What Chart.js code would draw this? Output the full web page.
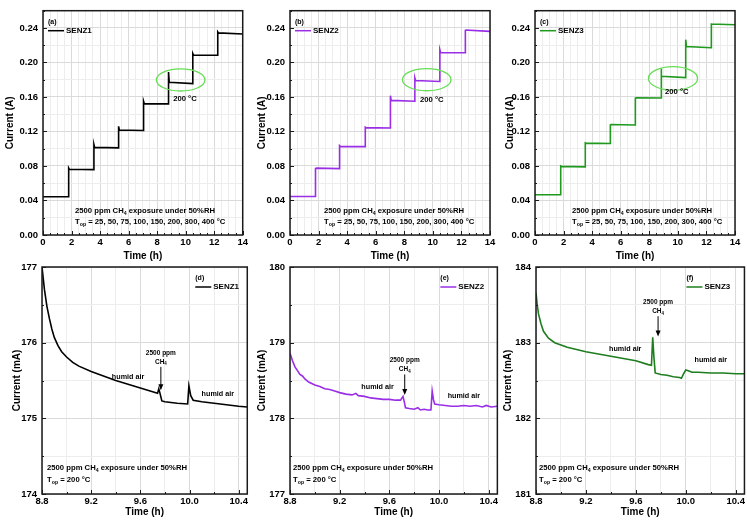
<!DOCTYPE html>
<html>
<head>
<meta charset="utf-8">
<script src="https://cdn.jsdelivr.net/npm/chart.js@4.4.0/dist/chart.umd.min.js"></script>
<style>
  body { margin: 0; background: #fff; }
  .panel { position: absolute; }
</style>
</head>
<body>
<div class="panel" style="left:0;top:0;width:250px;height:265px"><canvas id="chart-a"></canvas></div>
<div class="panel" style="left:250px;top:0;width:250px;height:265px"><canvas id="chart-b"></canvas></div>
<div class="panel" style="left:497px;top:0;width:250px;height:265px"><canvas id="chart-c"></canvas></div>
<div class="panel" style="left:0;top:255px;width:250px;height:270px"><canvas id="chart-d"></canvas></div>
<div class="panel" style="left:250px;top:255px;width:250px;height:270px"><canvas id="chart-e"></canvas></div>
<div class="panel" style="left:497px;top:255px;width:250px;height:270px"><canvas id="chart-f"></canvas></div>
<script>
var FONT = '"Liberation Sans", Arial, Helvetica, sans-serif';

// ---- tick labels ----
var topXLabels = [0, 2, 4, 6, 8, 10, 12, 14];
var topYLabels = [0.00, 0.04, 0.08, 0.12, 0.16, 0.20, 0.24];
var botXLabels = [8.8, 9.2, 9.6, 10.0, 10.4];
var yLabelsD = [174, 175, 176, 177];
var yLabelsE = [177, 178, 179, 180];
var yLabelsF = [181, 182, 183, 184];

// ---- (a)-(c): current vs time, 0-14 h (A) ----
var timeA = [0, 1.80, 1.80, 1.85, 3.57, 3.57, 3.62, 5.30, 5.30, 5.35, 7.05, 7.05, 7.10, 8.80, 8.80, 8.85, 10.50, 10.50, 10.55, 12.25, 12.25, 12.30, 14.0];
var currA = [0.0444, 0.0444, 0.0777, 0.0762, 0.0758, 0.1050, 0.1016, 0.1010, 0.1260, 0.1217, 0.1212, 0.1550, 0.1522, 0.1520, 0.1890, 0.1770, 0.1755, 0.2104, 0.2085, 0.2083, 0.2355, 0.2343, 0.2330];
var timeB = [0, 1.76, 1.76, 1.81, 3.47, 3.47, 3.52, 5.27, 5.27, 5.32, 7.03, 7.03, 7.08, 8.74, 8.74, 8.79, 10.49, 10.49, 10.54, 12.25, 12.25, 12.30, 14.0];
var currB = [0.0447, 0.0447, 0.0777, 0.0775, 0.0770, 0.1035, 0.1027, 0.1025, 0.1250, 0.1245, 0.1240, 0.1615, 0.1560, 0.1550, 0.1820, 0.1790, 0.1780, 0.2146, 0.2115, 0.2112, 0.2380, 0.2375, 0.2360];
var timeC = [0, 1.80, 1.80, 1.85, 3.52, 3.52, 3.57, 5.25, 5.25, 5.30, 7.00, 7.00, 7.05, 8.82, 8.82, 8.87, 10.55, 10.55, 10.60, 12.32, 12.32, 12.37, 14.0];
var currC = [0.0466, 0.0466, 0.0800, 0.0795, 0.0790, 0.1068, 0.1065, 0.1060, 0.1283, 0.1280, 0.1275, 0.1595, 0.1590, 0.1588, 0.1930, 0.1840, 0.1825, 0.2264, 0.2185, 0.2170, 0.2455, 0.2446, 0.2438];

// ---- (d)-(f): zoom at 200 °C, 8.8-10.47 h (mA) ----
var timeD = [8.80, 8.81, 8.82, 8.84, 8.86, 8.88, 8.90, 8.93, 8.96, 9.00, 9.05, 9.10, 9.20, 9.30, 9.40, 9.50, 9.60, 9.70, 9.74, 9.75, 9.76, 9.775, 9.80, 9.90, 9.985, 9.995, 10.01, 10.03, 10.10, 10.20, 10.30, 10.40, 10.47];
var currD = [177.00, 176.85, 176.70, 176.48, 176.32, 176.18, 176.07, 175.96, 175.88, 175.81, 175.74, 175.69, 175.62, 175.56, 175.50, 175.45, 175.40, 175.35, 175.33, 175.39, 175.33, 175.23, 175.22, 175.20, 175.19, 175.43, 175.30, 175.24, 175.22, 175.20, 175.18, 175.16, 175.15];
var timeE = [8.80, 8.82, 8.84, 8.86, 8.88, 8.90, 8.92, 8.95, 9.00, 9.04, 9.08, 9.12, 9.16, 9.20, 9.25, 9.30, 9.33, 9.35, 9.40, 9.45, 9.50, 9.55, 9.60, 9.65, 9.69, 9.71, 9.72, 9.73, 9.76, 9.80, 9.83, 9.85, 9.88, 9.91, 9.935, 9.945, 9.955, 9.965, 10.00, 10.05, 10.10, 10.15, 10.20, 10.25, 10.30, 10.35, 10.38, 10.42, 10.47];
var currE = [178.86, 178.76, 178.68, 178.63, 178.58, 178.56, 178.52, 178.48, 178.44, 178.42, 178.39, 178.38, 178.36, 178.34, 178.32, 178.31, 178.33, 178.30, 178.29, 178.27, 178.26, 178.25, 178.25, 178.24, 178.24, 178.29, 178.22, 178.14, 178.13, 178.12, 178.14, 178.11, 178.12, 178.11, 178.11, 178.36, 178.25, 178.19, 178.18, 178.17, 178.16, 178.16, 178.17, 178.16, 178.17, 178.15, 178.17, 178.15, 178.16];
var timeF = [8.80, 8.81, 8.82, 8.84, 8.86, 8.90, 8.95, 9.00, 9.05, 9.10, 9.20, 9.30, 9.40, 9.50, 9.60, 9.70, 9.725, 9.735, 9.745, 9.755, 9.80, 9.85, 9.90, 9.95, 9.965, 9.98, 10.00, 10.02, 10.05, 10.10, 10.20, 10.30, 10.40, 10.47];
var currF = [183.66, 183.50, 183.38, 183.25, 183.15, 183.06, 183.00, 182.97, 182.94, 182.92, 182.88, 182.85, 182.82, 182.79, 182.76, 182.71, 182.70, 183.07, 182.80, 182.60, 182.58, 182.57, 182.55, 182.54, 182.53, 182.58, 182.64, 182.63, 182.61, 182.61, 182.60, 182.60, 182.59, 182.59];

function inList(list, v) {
  for (var i = 0; i < list.length; i++) {
    if (Math.abs(list[i] - v) < 1e-6) return true;
  }
  return false;
}

// text with _subscript_ parts
function drawRich(ctx, str, x, y, size, align) {
  var parts = str.split('_');
  var w = 0;
  parts.forEach(function (p, i) {
    ctx.font = 'bold ' + (i % 2 ? size * 0.68 : size) + 'px ' + FONT;
    w += ctx.measureText(p).width;
  });
  if (align === 'center') x -= w / 2;
  ctx.textAlign = 'left';
  ctx.textBaseline = 'middle';
  parts.forEach(function (p, i) {
    var sub = i % 2 === 1;
    ctx.font = 'bold ' + (sub ? size * 0.68 : size) + 'px ' + FONT;
    ctx.fillText(p, x, y + (sub ? size * 0.35 : 0));
    x += ctx.measureText(p).width;
  });
}

function seg(ctx, x1, y1, x2, y2) {
  ctx.beginPath(); ctx.moveTo(x1, y1); ctx.lineTo(x2, y2); ctx.stroke();
}

var panelDecor = {
  id: 'panelDecor',
  afterDatasetsDraw: function (chart, args, o) {
    var ctx = chart.ctx, a = chart.chartArea, xs = chart.scales.x, ys = chart.scales.y;
    ctx.save();
    ctx.fillStyle = '#000';
    ctx.strokeStyle = '#1a1a1a';
    ctx.lineWidth = 1;
    // inward tick marks
    xs.ticks.forEach(function (t) {
      var px = Math.round(xs.getPixelForValue(t.value)) + 0.5;
      seg(ctx, px, a.bottom, px, a.bottom - (t.label ? 4 : 2));
    });
    ys.ticks.forEach(function (t) {
      var py = Math.round(ys.getPixelForValue(t.value)) + 0.5;
      seg(ctx, a.left, py, a.left + (t.label ? 4 : 2), py);
    });
    // frame
    ctx.lineWidth = 1.5;
    ctx.strokeRect(a.left, a.top, a.right - a.left, a.bottom - a.top);

    // legend
    ctx.font = 'bold 7px ' + FONT;
    ctx.textBaseline = 'middle';
    ctx.textAlign = 'left';
    var lx = o.legendRight ? a.right + o.legendDx : a.left + o.legendDx;
    ctx.fillText(o.tag, lx, a.top + 11);
    ctx.strokeStyle = o.color;
    ctx.lineWidth = 1.5;
    seg(ctx, lx, a.top + 20, lx + 16, a.top + 20);
    ctx.font = 'bold 8px ' + FONT;
    ctx.fillText(o.name, lx + 18, a.top + 20);

    // condition notes, bottom-left
    drawRich(ctx, o.note1, a.left + o.noteDx, a.bottom - o.noteDy1, 7.7, 'left');
    drawRich(ctx, o.note2, a.left + o.noteDx, a.bottom - o.noteDy2, 7.7, 'left');

    // green ring around 200 °C step
    if (o.ring) {
      var cx = xs.getPixelForValue(o.ring.x), cy = ys.getPixelForValue(o.ring.y);
      var rx = Math.abs(xs.getPixelForValue(o.ring.x + o.ring.rx) - cx);
      var ry = Math.abs(ys.getPixelForValue(o.ring.y + o.ring.ry) - cy);
      ctx.strokeStyle = '#66dd55';
      ctx.lineWidth = 1.3;
      ctx.beginPath(); ctx.ellipse(cx, cy, rx, ry, 0, 0, Math.PI * 2); ctx.stroke();
      drawRich(ctx, '200 °C', xs.getPixelForValue(o.ring.tx), ys.getPixelForValue(o.ring.ty), 7.7, 'center');
    }

    // arrow with gas label and humid air labels
    if (o.arrow) {
      var ax = xs.getPixelForValue(o.arrow.x);
      var y1 = ys.getPixelForValue(o.arrow.y1), y2 = ys.getPixelForValue(o.arrow.y2);
      drawRich(ctx, '2500 ppm', ax, y1 - 14, 6.5, 'center');
      drawRich(ctx, 'CH_4_', ax, y1 - 5, 6.5, 'center');
      ctx.strokeStyle = '#000';
      ctx.lineWidth = 1;
      seg(ctx, ax, y1, ax, y2 - 4);
      ctx.beginPath();
      ctx.moveTo(ax - 2.5, y2 - 6); ctx.lineTo(ax + 2.5, y2 - 6); ctx.lineTo(ax, y2); ctx.closePath(); ctx.fill();
      o.humid.forEach(function (h) {
        drawRich(ctx, 'humid air', xs.getPixelForValue(h.x), ys.getPixelForValue(h.y), 7.2, 'center');
      });
    }
    ctx.restore();
  }
};

function makePanel(id, p) {
  var points = p.time.map(function (t, i) { return { x: t, y: p.curr[i] }; });
  return new Chart(document.getElementById(id), {
    type: 'scatter',
    data: {
      datasets: [{
        data: points,
        showLine: true,
        borderColor: p.color,
        borderWidth: 1.6,
        pointRadius: 0,
        tension: 0,
        fill: false
      }]
    },
    options: {
      responsive: true,
      maintainAspectRatio: false,
      animation: false,
      events: [],
      layout: { padding: { top: p.padTop, right: p.padRight, left: 0, bottom: 0 } },
      plugins: {
        legend: { display: false },
        tooltip: { enabled: false },
        panelDecor: p.decor
      },
      scales: {
        x: {
          type: 'linear',
          min: p.xMin,
          max: p.xMax,
          afterFit: function (s) { s.height = p.xH; },
          border: { display: false },
          grid: {
            drawTicks: false,
            lineWidth: 1,
            color: function (c) { return inList(p.xLabels, c.tick.value) ? '#dadada' : '#ededed'; }
          },
          ticks: {
            stepSize: p.xStep,
            autoSkip: false,
            includeBounds: false,
            maxRotation: 0,
            padding: 2,
            color: '#000',
            font: { family: FONT, size: 9.5, weight: 'bold' },
            callback: function (v) { return inList(p.xLabels, v) ? v.toFixed(p.xDec) : ''; }
          },
          title: {
            display: true,
            text: 'Time (h)',
            color: '#000',
            font: { family: FONT, size: 10, weight: 'bold' },
            padding: { top: 0, bottom: p.xTitlePad }
          }
        },
        y: {
          type: 'linear',
          min: p.yMin,
          max: p.yMax,
          afterFit: function (s) { s.width = p.yW; },
          border: { display: false },
          grid: {
            drawTicks: false,
            lineWidth: 1,
            color: function (c) { return inList(p.yLabels, c.tick.value) ? '#dadada' : '#ededed'; }
          },
          ticks: {
            stepSize: p.yStep,
            autoSkip: false,
            includeBounds: false,
            padding: 5,
            color: '#000',
            font: { family: FONT, size: 9.5, weight: 'bold' },
            callback: function (v) { return inList(p.yLabels, v) ? v.toFixed(p.yDec) : ''; }
          },
          title: {
            display: true,
            text: p.yTitle,
            color: '#000',
            font: { family: FONT, size: 10, weight: 'bold' },
            padding: { top: p.yTitlePad, bottom: 0 }
          }
        }
      }
    },
    plugins: [panelDecor]
  });
}

var topNote1 = '2500 ppm CH_4_ exposure under 50%RH';
var topNote2 = 'T_op_ = 25, 50, 75, 100, 150, 200, 300, 400 °C';
var botNote2 = 'T_op_ = 200 °C';

function topPanel(id, time, curr, color, tag, name, yW, padRight, yTitlePad, noteDx, ring) {
  makePanel(id, {
    time: time, curr: curr, color: color,
    xMin: 0, xMax: 14, xStep: 0.5, xLabels: topXLabels, xDec: 0,
    yMin: 0, yMax: 0.26, yStep: 0.02, yLabels: topYLabels, yDec: 2,
    yTitle: 'Current (A)', yW: yW, xH: 30, padTop: 5, padRight: padRight,
    xTitlePad: 3, yTitlePad: yTitlePad,
    decor: {
      tag: tag, name: name, color: color, legendRight: false, legendDx: 5,
      note1: topNote1, note2: topNote2, noteDx: noteDx, noteDy1: 24, noteDy2: 13,
      ring: ring
    }
  });
}

function botPanel(id, time, curr, color, tag, name, yLabels, yW, padRight, yTitlePad, noteDx, legendDx, arrow, humid) {
  makePanel(id, {
    time: time, curr: curr, color: color,
    xMin: 8.8, xMax: 10.47, xStep: 0.2, xLabels: botXLabels, xDec: 1,
    yMin: yLabels[0], yMax: yLabels[3], yStep: 0.5, yLabels: yLabels, yDec: 0,
    yTitle: 'Current (mA)', yW: yW, xH: 31, padTop: 12, padRight: padRight,
    xTitlePad: 7, yTitlePad: yTitlePad,
    decor: {
      tag: tag, name: name, color: color, legendRight: true, legendDx: legendDx,
      note1: topNote1, note2: botNote2, noteDx: noteDx, noteDy1: 26, noteDy2: 14,
      arrow: arrow, humid: humid
    }
  });
}

topPanel('chart-a', timeA, currA, '#000000', '(a)', 'SENZ1', 43, 7, 4.5, 32,
  { x: 9.65, y: 0.1797, rx: 1.7, ry: 0.0128, tx: 9.95, ty: 0.158 });
topPanel('chart-b', timeB, currB, '#9a2ee6', '(b)', 'SENZ2', 40, 10, 6, 34,
  { x: 9.57, y: 0.1800, rx: 1.7, ry: 0.0128, tx: 9.92, ty: 0.157 });
topPanel('chart-c', timeC, currC, '#1f9a1f', '(c)', 'SENZ3', 38, 12, 7, 37,
  { x: 9.66, y: 0.1815, rx: 1.72, ry: 0.0136, tx: 9.92, ty: 0.1655 });

botPanel('chart-d', timeD, currD, '#000000', '(d)', 'SENZ1', yLabelsD, 42, 2, 11, 5, -52,
  { x: 9.767, y1: 175.68, y2: 175.37 }, [{ x: 9.50, y: 175.54 }, { x: 10.23, y: 175.32 }]);
botPanel('chart-e', timeE, currE, '#9a2ee6', '(e)', 'SENZ2', yLabelsE, 40, 2, 6, 3, -57,
  { x: 9.724, y1: 178.58, y2: 178.31 }, [{ x: 9.505, y: 178.41 }, { x: 10.20, y: 178.30 }]);
botPanel('chart-f', timeF, currF, '#1e7d1e', '(f)', 'SENZ3', yLabelsF, 39, 1, 5.5, 3, -58,
  { x: 9.778, y1: 183.35, y2: 183.08 }, [{ x: 9.515, y: 182.92 }, { x: 10.20, y: 182.77 }]);
</script>
</body>
</html>
